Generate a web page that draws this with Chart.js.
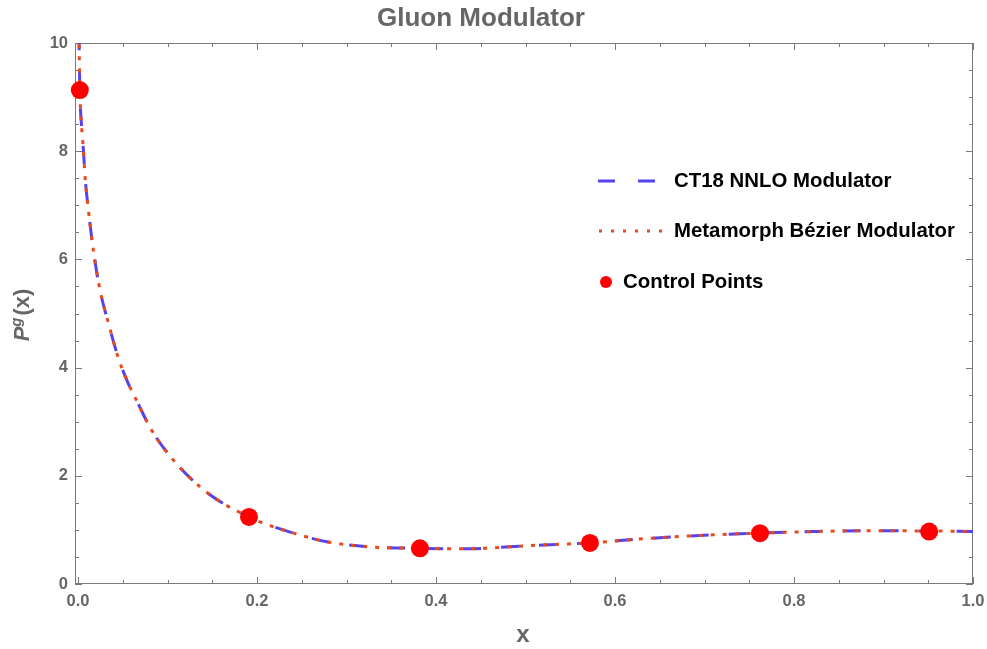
<!DOCTYPE html>
<html>
<head>
<meta charset="utf-8">
<script src="https://cdn.jsdelivr.net/npm/chart.js@4"></script>
<style>html,body{margin:0;padding:0;background:#fff}</style>
</head>
<body>
<canvas id="chart" width="987" height="649"></canvas>
<script>
// values
const CURVE_X  = [0.001, 0.002, 0.004, 0.006, 0.0078, 0.0116, 0.0171, 0.0246, 0.034, 0.045, 0.056, 0.064, 0.082, 0.1065, 0.136, 0.159, 0.191, 0.203, 0.241, 0.278, 0.323, 0.382, 0.43, 0.453, 0.505, 0.572, 0.635, 0.71, 0.762, 0.822, 0.877, 0.951, 1.0];
const CT18_Y   = [10.2, 9.13, 8.45, 8.02, 7.53, 6.91, 6.17, 5.43, 4.82, 4.18, 3.71, 3.44, 2.85, 2.29, 1.80, 1.52, 1.24, 1.15, 0.94, 0.78, 0.69, 0.66, 0.65, 0.66, 0.71, 0.76, 0.84, 0.91, 0.94, 0.97, 0.985, 0.98, 0.97];
const BEZIER_Y = [10.2, 9.13, 8.45, 8.02, 7.53, 6.91, 6.17, 5.43, 4.82, 4.18, 3.71, 3.44, 2.85, 2.29, 1.80, 1.52, 1.24, 1.15, 0.94, 0.78, 0.69, 0.66, 0.65, 0.66, 0.71, 0.76, 0.84, 0.91, 0.94, 0.97, 0.985, 0.98, 0.97];
const CONTROL_X = [0.002, 0.191, 0.382, 0.572, 0.762, 0.951];
const CONTROL_Y = [9.13, 1.24, 0.66, 0.76, 0.94, 0.97];
const X_TICKS = [0, 0.2, 0.4, 0.6, 0.8, 1.0];
const Y_TICKS = [0, 2, 4, 6, 8, 10];

const GRAY = "#666666";
const FRAME = "#7a7a7a";
const BLUE = "#5544ee";
const ORANGE = "#ea4a1a";
const RED = "#ff0000";
const FONT = "'Liberation Sans', Arial, sans-serif";

const pts = (xs, ys) => xs.map((x, i) => ({ x, y: ys[i] }));

// frame with inward ticks on all four sides (Mathematica style)
const framePlugin = {
  id: "frame",
  beforeDatasetsDraw(chart) {
    const { ctx, chartArea: a, scales: { x, y } } = chart;
    ctx.save();
    ctx.strokeStyle = FRAME;
    ctx.lineWidth = 1;
    ctx.strokeRect(a.left + 0.5, a.top + 0.5, a.right - a.left - 1, a.bottom - a.top - 1);
    ctx.beginPath();
    const xStep = (X_TICKS[1] - X_TICKS[0]) / 4;
    for (let v = X_TICKS[0]; v <= X_TICKS[X_TICKS.length - 1] + 1e-9; v += xStep) {
      const major = X_TICKS.some(t => Math.abs(t - v) < 1e-9);
      const len = major ? 7 : 4;
      const px = Math.round(x.getPixelForValue(v)) + 0.5;
      ctx.moveTo(px, a.bottom); ctx.lineTo(px, a.bottom - len);
      ctx.moveTo(px, a.top); ctx.lineTo(px, a.top + len);
    }
    const yStep = (Y_TICKS[1] - Y_TICKS[0]) / 4;
    for (let v = Y_TICKS[0]; v <= Y_TICKS[Y_TICKS.length - 1] + 1e-9; v += yStep) {
      const major = Y_TICKS.some(t => Math.abs(t - v) < 1e-9);
      const len = major ? 7 : 4;
      const py = Math.round(y.getPixelForValue(v)) + 0.5;
      ctx.moveTo(a.left, py); ctx.lineTo(a.left + len, py);
      ctx.moveTo(a.right, py); ctx.lineTo(a.right - len, py);
    }
    ctx.stroke();
    ctx.restore();
  },
  afterDraw(chart) {
    const { ctx } = chart;
    ctx.save();
    // title
    ctx.fillStyle = GRAY;
    ctx.textAlign = "center";
    ctx.textBaseline = "alphabetic";
    ctx.font = `bold 26px ${FONT}`;
    ctx.fillText("Gluon Modulator", 481, 26);
    // x axis title
    ctx.font = `bold 24px ${FONT}`;
    ctx.fillText("x", 523, 642);
    // y axis title P^g(x)
    ctx.save();
    ctx.translate(29, 315);
    ctx.rotate(-Math.PI / 2);
    ctx.textAlign = "left";
    const fP = `italic bold 22px ${FONT}`, fG = `italic bold 15px ${FONT}`, fX = `bold 22px ${FONT}`;
    ctx.font = fP; const wP = ctx.measureText("P").width;
    ctx.font = fG; const wG = ctx.measureText("g").width;
    ctx.font = fX; const wX = ctx.measureText("(x)").width;
    let x0 = -(wP + wG + 2 + wX) / 2;
    ctx.font = fP; ctx.fillText("P", x0, 0); x0 += wP;
    ctx.font = fG; ctx.fillText("g", x0, -8); x0 += wG + 2;
    ctx.font = fX; ctx.fillText("(x)", x0, 0);
    ctx.restore();
    // legend
    ctx.lineWidth = 3;
    ctx.strokeStyle = BLUE;
    ctx.setLineDash([17, 23]);
    ctx.beginPath(); ctx.moveTo(598, 181); ctx.lineTo(656, 181); ctx.stroke();
    ctx.strokeStyle = ORANGE;
    ctx.setLineDash([3, 9]);
    ctx.beginPath(); ctx.moveTo(599, 231); ctx.lineTo(663, 231); ctx.stroke();
    ctx.setLineDash([]);
    ctx.fillStyle = RED;
    ctx.beginPath(); ctx.arc(606, 282, 6, 0, Math.PI * 2); ctx.fill();
    ctx.fillStyle = "#000";
    ctx.textAlign = "left";
    ctx.textBaseline = "middle";
    ctx.font = `bold 20.4px ${FONT}`;
    ctx.fillText("CT18 NNLO Modulator", 674, 181);
    ctx.fillText("Metamorph Bézier Modulator", 674, 231);
    ctx.fillText("Control Points", 623, 282);
    ctx.restore();
  }
};

const tickFont = { family: FONT, size: 16.5, weight: "bold" };

new Chart(document.getElementById("chart").getContext("2d"), {
  type: "scatter",
  data: {
    datasets: [
      {
        label: "Control Points",
        data: pts(CONTROL_X, CONTROL_Y),
        showLine: false,
        pointRadius: 9,
        pointBackgroundColor: RED,
        pointBorderWidth: 0,
        clip: false,
        order: 0
      },
      {
        label: "Metamorph Bézier Modulator",
        data: pts(CURVE_X, BEZIER_Y),
        showLine: true,
        borderColor: ORANGE,
        borderWidth: 3,
        borderDash: [4, 8],
        pointRadius: 0,
        cubicInterpolationMode: "monotone",
        order: 1
      },
      {
        label: "CT18 NNLO Modulator",
        data: pts(CURVE_X, CT18_Y),
        showLine: true,
        borderColor: BLUE,
        borderWidth: 3,
        borderDash: [18, 20],
        pointRadius: 0,
        cubicInterpolationMode: "monotone",
        order: 2
      }
    ]
  },
  options: {
    responsive: false,
    animation: false,
    devicePixelRatio: 1,
    layout: { padding: { left: 0, top: 43, right: 14, bottom: 0 } },
    plugins: { legend: { display: false }, tooltip: { enabled: false }, title: { display: false } },
    scales: {
      x: {
        type: "linear", min: -0.0034, max: 1,
        afterBuildTicks: s => { s.ticks = X_TICKS.map(v => ({ value: v })); },
        afterFit: s => { s.height = 65; s.paddingLeft = 0; s.paddingRight = 0; },
        grid: { display: false, drawTicks: false },
        border: { display: false },
        ticks: { padding: 8, color: GRAY, font: tickFont, maxRotation: 0, autoSkip: false,
                 callback: v => v.toFixed(1) }
      },
      y: {
        type: "linear", min: 0, max: 10,
        afterBuildTicks: s => { s.ticks = Y_TICKS.map(v => ({ value: v })); },
        afterFit: s => { s.width = 75; s.paddingTop = 0; s.paddingBottom = 0; },
        grid: { display: false, drawTicks: false },
        border: { display: false },
        ticks: { padding: 7, color: GRAY, font: tickFont, autoSkip: false,
                 callback: v => String(v) }
      }
    }
  },
  plugins: [framePlugin]
});
</script>
</body>
</html>
